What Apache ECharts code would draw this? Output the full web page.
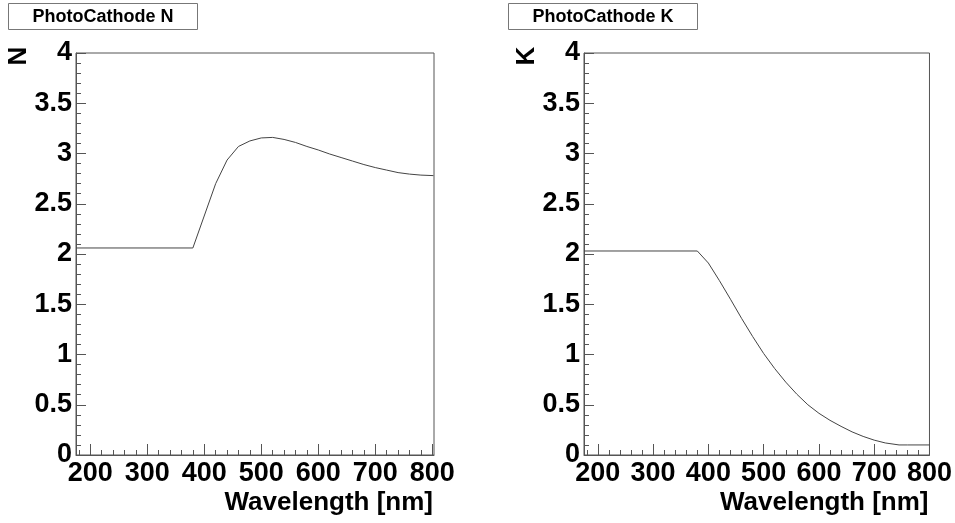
<!DOCTYPE html>
<html>
<head>
<meta charset="utf-8">
<script src="https://cdn.jsdelivr.net/npm/echarts@6/dist/echarts.min.js"></script>
<style>
html,body{margin:0;padding:0;background:#fff;}
#c{width:955px;height:523px;}
</style>
</head>
<body>
<div id="c"></div>
<script>
// ---- data ----
const titleN = 'PhotoCathode N';
const titleK = 'PhotoCathode K';
const xName = 'Wavelength [nm]';
const yNameN = 'N';
const yNameK = 'K';
const xMajorTicks = [200, 300, 400, 500, 600, 700, 800];
const xMinorTicks = [180, 200, 220, 240, 260, 280, 300, 320, 340, 360, 380, 400, 420, 440, 460, 480, 500, 520, 540, 560, 580, 600, 620, 640, 660, 680, 700, 720, 740, 760, 780, 800];

const wavelengthN = [175, 380, 420, 440, 460, 480, 500, 520, 540, 560, 580, 600, 620, 640, 660, 680, 700, 720, 740, 760, 780, 802];
const valuesN     = [2.06, 2.06, 2.70, 2.935, 3.07, 3.125, 3.155, 3.16, 3.14, 3.11, 3.07, 3.035, 2.995, 2.96, 2.925, 2.89, 2.86, 2.835, 2.81, 2.795, 2.785, 2.78];

const wavelengthK = [175, 380, 400, 420, 440, 460, 480, 500, 520, 540, 560, 580, 600, 620, 640, 660, 680, 700, 720, 745, 760, 800];
const valuesK     = [2.03, 2.03, 1.91, 1.735, 1.55, 1.36, 1.18, 1.01, 0.86, 0.725, 0.605, 0.50, 0.415, 0.345, 0.285, 0.23, 0.185, 0.148, 0.12, 0.10, 0.10, 0.10];

// ---- chart ----
const FONT = '"Liberation Sans", Arial, Helvetica, sans-serif';
const LINE = '#555';
const chart = echarts.init(document.getElementById('c'), null, {renderer: 'canvas'});

function pairs(xs, ys) { return xs.map((x, i) => [x, ys[i]]); }

function xAxes(grid, min, max) {
  return [
    {
      type: 'value', gridIndex: grid, min: min, max: max, position: 'bottom',
      name: xName, nameLocation: 'end', nameGap: -1,
      nameTextStyle: {fontFamily: FONT, fontWeight: 'bold', fontSize: 26, color: '#000', align: 'right', verticalAlign: 'top', padding: [35, 0, 0, 0]},
      axisLine: {show: true, lineStyle: {color: LINE, width: 1}},
      axisTick: {show: true, inside: true, length: 11, customValues: xMajorTicks, lineStyle: {color: LINE}},
      axisLabel: {show: true, customValues: xMajorTicks, margin: 5, fontFamily: FONT, fontWeight: 'bold', fontSize: 27, color: '#000'},
      splitLine: {show: false}
    },
    {
      type: 'value', gridIndex: grid, min: min, max: max, position: 'bottom',
      axisLine: {show: false},
      axisTick: {show: true, inside: true, length: 5, customValues: xMinorTicks, lineStyle: {color: LINE}},
      axisLabel: {show: false},
      splitLine: {show: false}
    }
  ];
}

function yAxis(grid) {
  return {
    type: 'value', gridIndex: grid, min: 0, max: 4, interval: 0.5,
    axisLine: {show: true, lineStyle: {color: LINE, width: 1}},
    axisTick: {show: true, inside: true, length: 10, lineStyle: {color: LINE}},
    minorTick: {show: true, splitNumber: 5, length: 5, lineStyle: {color: LINE}},
    axisLabel: {show: true, margin: 4, fontFamily: FONT, fontWeight: 'bold', fontSize: 27, color: '#000'},
    splitLine: {show: false}, minorSplitLine: {show: false}
  };
}

function titleBox(x, text) {
  return {
    type: 'group', left: x, top: 3,
    children: [
      {type: 'rect', shape: {x: 0, y: 0, width: 189, height: 26}, style: {fill: '#fff', stroke: '#777', lineWidth: 1}},
      {type: 'text', x: 94.5, y: 14, style: {text: text, fill: '#000', font: 'bold 18px ' + FONT, align: 'center', verticalAlign: 'middle'}}
    ]
  };
}

function yTitle(x, text) {
  return {
    type: 'text', x: x, y: 56, rotation: Math.PI / 2,
    style: {text: text, fill: '#000', font: 'bold 26px ' + FONT, align: 'center', verticalAlign: 'middle'}
  };
}

chart.setOption({
  animation: false,
  backgroundColor: '#fff',
  grid: [
    {left: 76, right: 521, top: 53, bottom: 68, show: true, borderColor: LINE, borderWidth: 1, backgroundColor: 'transparent'},
    {left: 584, right: 23, top: 53, bottom: 68, show: true, borderColor: LINE, borderWidth: 1, backgroundColor: 'transparent'}
  ],
  xAxis: [].concat(xAxes(0, 175, 803), xAxes(1, 175, 800)),
  yAxis: [yAxis(0), yAxis(1)],
  series: [
    {type: 'line', xAxisIndex: 0, yAxisIndex: 0, data: pairs(wavelengthN, valuesN), showSymbol: false, lineStyle: {color: '#444', width: 1}, silent: true},
    {type: 'line', xAxisIndex: 2, yAxisIndex: 1, data: pairs(wavelengthK, valuesK), showSymbol: false, lineStyle: {color: '#444', width: 1}, silent: true}
  ],
  graphic: [titleBox(8, titleN), titleBox(508, titleK), yTitle(19, yNameN), yTitle(527, yNameK)]
});
</script>
</body>
</html>
